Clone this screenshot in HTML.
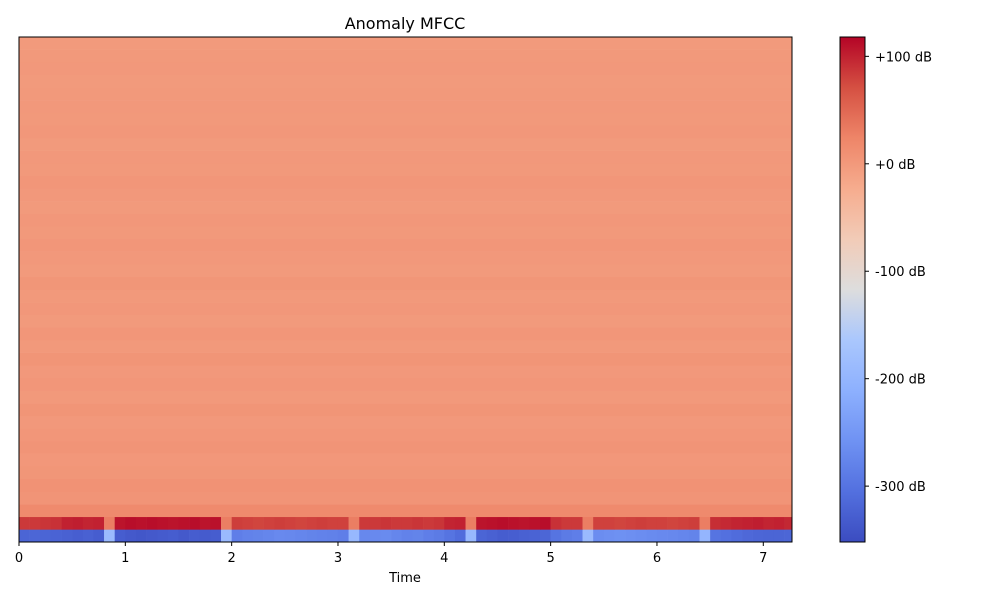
<!DOCTYPE html>
<html><head><meta charset="utf-8"><style>
body{margin:0;background:#fff;}
svg text{font-family:"DejaVu Sans","Liberation Sans",sans-serif;fill:#000;}
</style></head><body>
<svg id="chart" width="1000" height="600" viewBox="0 0 1000 600" xmlns="http://www.w3.org/2000/svg">
<text x="405" y="29" font-size="16" text-anchor="middle">Anomaly MFCC</text>
<g id="heat"></g>
<rect x="19" y="37" width="773" height="505" fill="none" stroke="#000" stroke-width="1"/>
<g id="xaxis"></g>
<text x="405" y="582" font-size="13" text-anchor="middle">Time</text>
<defs><linearGradient id="cw" x1="0" y1="1" x2="0" y2="0"></linearGradient></defs>
<rect x="840" y="37" width="25" height="505" fill="url(#cw)" stroke="#000" stroke-width="1"/>
<g id="cbaxis"></g>
</svg>
<script>
const rowMeans=[-300,95,18,6,8,4,2,6,3,1,5,0,3,1,5,0,3,-1,2,0,4,-1,1,3,0,2,-1,1,3,0,1,-1,2,0,1,0,-1,1,0,-1];
const row1Vals=[85,85,88,90,100,102,98,100,30,108,112,110,112,110,108,110,112,108,110,30,82,80,78,80,82,80,78,80,82,80,80,30,85,85,88,85,85,88,85,88,98,100,30,108,110,112,110,108,110,112,90,85,85,30,80,80,78,80,82,80,80,78,80,82,30,92,95,98,100,102,98,100,96];
const row0Vals=[-320,-318,-320,-322,-325,-328,-325,-330,-190,-330,-335,-338,-335,-332,-330,-335,-330,-332,-330,-190,-285,-280,-278,-275,-270,-272,-275,-278,-280,-282,-285,-195,-272,-270,-268,-275,-280,-278,-285,-290,-300,-310,-195,-320,-325,-330,-328,-325,-322,-318,-300,-290,-285,-190,-265,-262,-260,-262,-265,-268,-270,-272,-275,-278,-200,-300,-305,-310,-315,-318,-320,-320,-318];
const xTicks=[0,1,2,3,4,5,6,7];
const cbTicks=[100,0,-100,-200,-300];
const cbLabels=["+100 dB","+0 dB","-100 dB","-200 dB","-300 dB"];
const vmin=-352,vmax=118,tmax=7.27,colStep=0.1;
const X0=19,X1=792,Y0=37,Y1=542;
const xs=t=>X0+(t/tmax)*(X1-X0);
const ys=r=>Y1-(r+1)*(Y1-Y0)/rowMeans.length;
const cy=v=>Y1-(v-vmin)/(vmax-vmin)*(Y1-Y0);
const stops=[[59,76,192],[83,112,223],[111,146,243],[141,176,254],[170,199,253],[221,221,221],[242,203,183],[246,172,142],[238,133,104],[213,80,66],[180,4,38]];
function cmap(v){let f=(v-vmin)/(vmax-vmin);f=Math.max(0,Math.min(1,f));const p=f*10,i=Math.min(9,Math.floor(p)),u=p-i;const a=stops[i],b=stops[i+1];return `rgb(${a.map((c,k)=>Math.round(c+(b[k]-c)*u)).join(',')})`;}
const NS="http://www.w3.org/2000/svg";
const heat=document.getElementById('heat');
const rh=(Y1-Y0)/rowMeans.length;
function cell(x,y,w,h,v,name){const r=document.createElementNS(NS,'rect');r.setAttribute('x',x);r.setAttribute('y',y);r.setAttribute('width',w);r.setAttribute('height',h);r.setAttribute('fill',cmap(v));


heat.appendChild(r);}
rowMeans.forEach((m,r)=>{
  if(r===0||r===1){const arr=r===0?row0Vals:row1Vals;
    arr.forEach((v,c)=>{const a=xs(c*colStep),b=xs(Math.min(tmax,(c+1)*colStep));cell(a,ys(r),b-a+0.3,rh+0.3,v,'heatmap-cell');});
  } else cell(X0,ys(r),X1-X0,rh+0.3,m,'heatmap-row');
});
const xa=document.getElementById('xaxis');
xTicks.forEach(t=>{const x=xs(t);
 const l=document.createElementNS(NS,'line');l.setAttribute('x1',x);l.setAttribute('x2',x);l.setAttribute('y1',Y1);l.setAttribute('y2',Y1+4);l.setAttribute('stroke','#000');
 
 
 xa.appendChild(l);
 const tx=document.createElementNS(NS,'text');tx.setAttribute('x',x);tx.setAttribute('y',Y1+20);tx.setAttribute('font-size','13');tx.setAttribute('text-anchor','middle');tx.textContent=t;
 
 
 xa.appendChild(tx);});
const g=document.getElementById('cw');
for(let i=0;i<=10;i++){const s=document.createElementNS(NS,'stop');s.setAttribute('offset',i/10);s.setAttribute('stop-color',`rgb(${stops[i].join(',')})`);g.appendChild(s);}
const cb=document.getElementById('cbaxis');
cbTicks.forEach((v,i)=>{const y=cy(v);
 const l=document.createElementNS(NS,'line');l.setAttribute('x1',865);l.setAttribute('x2',869);l.setAttribute('y1',y);l.setAttribute('y2',y);l.setAttribute('stroke','#000');
 
 
 cb.appendChild(l);
 const tx=document.createElementNS(NS,'text');tx.setAttribute('x',875);tx.setAttribute('y',y+5);tx.setAttribute('font-size','13');tx.textContent=cbLabels[i];
 
 
 cb.appendChild(tx);});
</script>
</body></html>
